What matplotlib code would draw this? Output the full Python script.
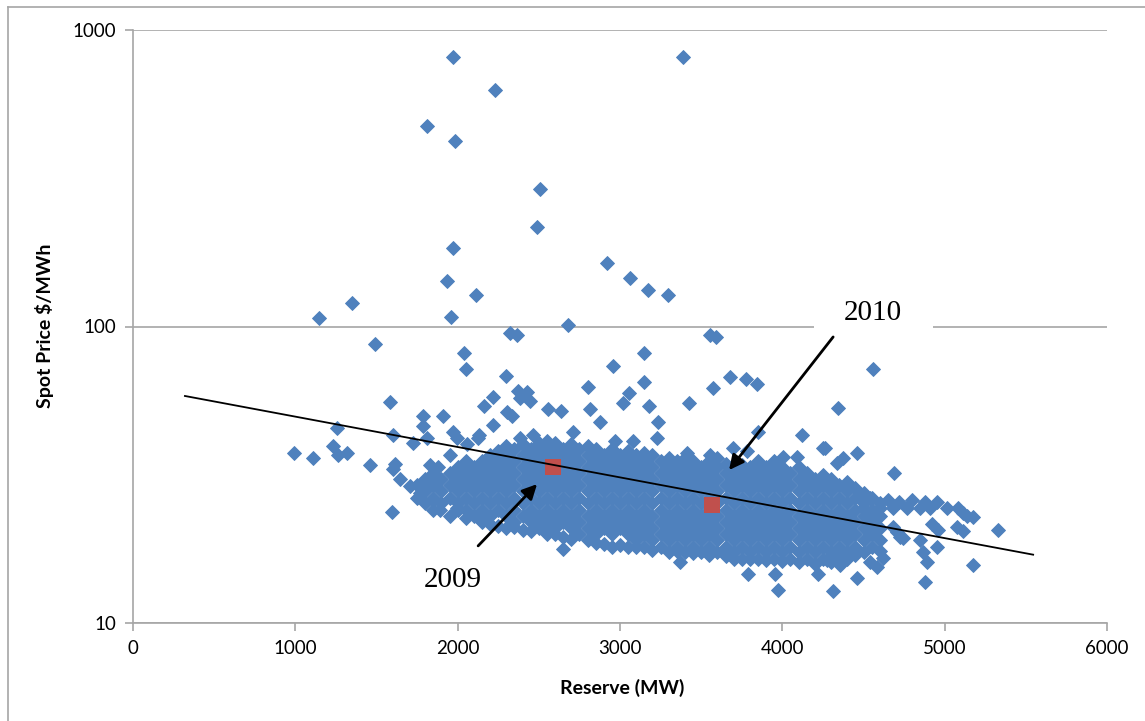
import matplotlib.pyplot as plt
from matplotlib.ticker import NullLocator

# scattered points outside the dense cloud (reserve MW, spot price $/MWh)
out_reserve = [1972, 3389, 2230, 1811, 1984, 2508, 2489, 1972, 2921, 3062,
               1935, 3173, 2113, 3296, 1350, 1146, 1959, 2680, 2323, 2366,
               3555, 3592, 1491, 2039, 3148, 2957, 2051, 4559, 2298, 3678,
               3777, 3845, 3148, 2803, 3573, 2372, 2427, 3056, 2218, 2384,
               2446, 1583, 2162, 3019, 3179, 3426, 4340, 2557, 2637, 2816,
               2304, 2335, 1787, 1910, 2877, 3235, 1787, 1257, 2218, 2711,
               1972, 3851, 4122, 1602, 2132, 2384, 2464, 1811, 1996, 2125,
               3228, 3080, 2970, 1725, 2058, 4251, 4265, 1232, 1263, 1318,
               992, 1109, 1953, 4460, 4375, 4338, 1460, 1614, 1602, 1830,
               1880, 4689, 1645, 1707, 1768, 1848, 1891, 1996, 1596, 2138,
               3413, 3555, 3697, 3783, 4005, 4091,
               4480, 4498, 4540, 4602, 4650, 4683, 4720, 4769, 4800, 4849,
               4880, 4910, 4950, 5015, 5083, 5114, 5140, 5175, 5077, 5114,
               5330, 4960, 4920, 4683, 4726, 4707, 4744, 4849, 4953, 4867,
               4892, 5175, 4879, 4460, 4313, 4584, 4540, 4621, 4356, 4276,
               4220, 3789, 3955, 3974, 3370, 2649]
out_price = [811, 808, 628, 474, 423, 291, 217, 184, 164, 146,
             142, 133, 128, 128, 120, 107, 108, 101, 95, 93.5,
             93.5, 92, 87, 81.5, 81.5, 73.6, 72, 72, 68, 67.6,
             66.5, 64, 65, 62.5, 62, 60.6, 60, 59.5, 58, 57.6,
             56, 55.5, 54, 55, 54, 55, 53, 52.5, 52, 52.6,
             51.6, 50, 50, 50, 47.5, 47.6, 46, 45.3, 46.5, 44,
             44, 44, 43, 43, 43, 42, 43, 42, 42, 42,
             42, 41, 41, 40.5, 40, 39, 39, 39.5, 37, 37.5,
             37.5, 36, 37, 37.5, 36, 34.6, 34, 34.5, 33, 34,
             33.5, 32, 30.5, 29, 27.5, 26, 24, 24.5, 23.7, 22.5,
             37.4, 37, 39, 38, 36.3, 36.3,
             27, 24.5, 26.5, 24.5, 26, 24.5, 25.5, 24.5, 26, 24.5,
             25.5, 24.5, 25.5, 24.5, 24.5, 23.5, 23, 22.7, 21, 20.5,
             20.6, 20.6, 21.5, 21, 19.5, 20.2, 19.4, 19.0, 18.0, 17.3,
             16, 15.7, 13.8, 14.2, 12.8, 15.4, 16, 16.6, 15.7, 16.3,
             14.6, 14.6, 14.6, 12.9, 16, 17.7]

# dense cloud, one column of prices per reserve value
cloud_reserve = [1750, 1800, 1850, 1900, 1950, 2000, 2050, 2100, 2150, 2200,
                 2250, 2300, 2350, 2400, 2450, 2500, 2550, 2600, 2650, 2700,
                 2750, 2800, 2850, 2900, 2950, 3000, 3050, 3100, 3150, 3200,
                 3250, 3300, 3350, 3400, 3450, 3500, 3550, 3600, 3650, 3700,
                 3750, 3800, 3850, 3900, 3950, 4000, 4050, 4100, 4150, 4200,
                 4250, 4300, 4350, 4400, 4450, 4500, 4550, 4600]
cloud_prices = [
    [26.5, 29.1],
    [25.3, 27.8, 30.5],
    [24.1, 26.5, 29.1, 32.0],
    [25.3, 27.8, 30.5],
    [23.0, 26.5, 29.1, 32.0],
    [24.1, 25.3, 27.8, 30.5, 33.6],
    [22.6, 24.1, 26.5, 29.1, 32.0, 35.2],
    [23.0, 25.3, 27.8, 30.5, 33.6],
    [21.9, 24.1, 26.5, 29.1, 32.0, 35.2],
    [21.5, 23.0, 25.3, 27.8, 30.5, 33.6, 37.0],
    [21.2, 24.1, 26.5, 29.1, 32.0, 35.2, 38.0],
    [20.9, 23.0, 25.3, 27.8, 30.5, 33.6, 37.0, 39.5],
    [21.0, 21.9, 24.1, 26.5, 29.1, 32.0, 35.2, 38.7],
    [20.6, 23.0, 25.3, 27.8, 30.5, 33.6, 37.0, 40.0],
    [20.5, 21.9, 24.1, 26.5, 29.1, 32.0, 35.2, 38.7],
    [20.9, 23.0, 25.3, 27.8, 30.5, 33.6, 37.0, 40.6],
    [19.9, 21.9, 24.1, 26.5, 29.1, 32.0, 35.2, 38.7, 41.0],
    [20.0, 20.9, 23.0, 25.3, 27.8, 30.5, 33.6, 37.0, 40.6],
    [19.5, 21.9, 24.1, 26.5, 29.1, 32.0, 35.2, 38.7],
    [19.2, 20.9, 23.0, 25.3, 27.8, 30.5, 33.6, 37.0, 40.0],
    [19.9, 21.9, 24.1, 26.5, 29.1, 32.0, 35.2, 38.7],
    [19.0, 20.9, 23.0, 25.3, 27.8, 30.5, 33.6, 37.0, 39.5],
    [18.6, 19.9, 21.9, 24.1, 26.5, 29.1, 32.0, 35.2, 38.7],
    [18.5, 20.9, 23.0, 25.3, 27.8, 30.5, 33.6, 37.0],
    [18.1, 19.9, 21.9, 24.1, 26.5, 29.1, 32.0, 35.2, 38.7],
    [18.3, 20.9, 23.0, 25.3, 27.8, 30.5, 33.6, 37.0],
    [18.1, 19.9, 21.9, 24.1, 26.5, 29.1, 32.0, 35.2, 38.0],
    [18.0, 19.0, 20.9, 23.0, 25.3, 27.8, 30.5, 33.6, 37.0],
    [18.1, 19.9, 21.9, 24.1, 26.5, 29.1, 32.0, 35.2, 37.5],
    [17.6, 19.0, 20.9, 23.0, 25.3, 27.8, 30.5, 33.6, 37.0],
    [18.1, 19.9, 21.9, 24.1, 26.5, 29.1, 32.0, 35.2],
    [17.3, 19.0, 20.9, 23.0, 25.3, 27.8, 30.5, 33.6, 36.0],
    [17.5, 18.1, 19.9, 21.9, 24.1, 26.5, 29.1, 32.0, 35.2],
    [17.3, 19.0, 20.9, 23.0, 25.3, 27.8, 30.5, 33.6, 36.0],
    [17.2, 18.1, 19.9, 21.9, 24.1, 26.5, 29.1, 32.0, 35.2],
    [17.3, 19.0, 20.9, 23.0, 25.3, 27.8, 30.5, 33.6],
    [17.0, 18.1, 19.9, 21.9, 24.1, 26.5, 29.1, 32.0, 35.2],
    [17.3, 19.0, 20.9, 23.0, 25.3, 27.8, 30.5, 33.6, 36.0],
    [16.8, 18.1, 19.9, 21.9, 24.1, 26.5, 29.1, 32.0, 34.5],
    [16.5, 17.3, 19.0, 20.9, 23.0, 25.3, 27.8, 30.5, 33.6],
    [16.5, 18.1, 19.9, 21.9, 24.1, 26.5, 29.1, 32.0, 34.0],
    [16.5, 17.3, 19.0, 20.9, 23.0, 25.3, 27.8, 30.5, 33.6],
    [16.5, 18.1, 19.9, 21.9, 24.1, 26.5, 29.1, 32.0, 35.2],
    [16.3, 17.3, 19.0, 20.9, 23.0, 25.3, 27.8, 30.5, 33.6],
    [16.5, 18.1, 19.9, 21.9, 24.1, 26.5, 29.1, 32.0, 35.2],
    [16.2, 17.3, 19.0, 20.9, 23.0, 25.3, 27.8, 30.5, 33.6],
    [16.5, 18.1, 19.9, 21.9, 24.1, 26.5, 29.1, 32.0],
    [16.0, 17.3, 19.0, 20.9, 23.0, 25.3, 27.8, 30.5, 33.6],
    [16.5, 18.1, 19.9, 21.9, 24.1, 26.5, 29.1, 32.0],
    [15.8, 17.3, 19.0, 20.9, 23.0, 25.3, 27.8, 30.5],
    [16.5, 18.1, 19.9, 21.9, 24.1, 26.5, 29.1, 31.5],
    [16.0, 17.3, 19.0, 20.9, 23.0, 25.3, 27.8, 30.5],
    [16.8, 18.1, 19.9, 21.9, 24.1, 26.5, 29.1],
    [16.5, 17.3, 19.0, 20.9, 23.0, 25.3, 27.8, 30.0],
    [17.0, 18.1, 19.9, 21.9, 24.1, 26.5, 28.5],
    [17.3, 19.0, 20.9, 23.0, 25.3, 27.5],
    [18.1, 19.9, 21.9, 24.1, 26.5],
    [17.5, 19.0, 20.9, 23.0, 25.3],
]

# yearly averages (red squares)
avg_reserve = [2588, 3567]
avg_price = [33.6, 25.0]
avg_years = ['2009', '2010']

# trend line end points
trend_reserve = [320, 5545]
trend_price = [58.3, 17.0]

xticks = [0, 1000, 2000, 3000, 4000, 5000, 6000]
yticks = [10, 100, 1000]

blue = '#4f81bd'
red = '#c0504d'
axis_grey = '#a6a6a6'

fig = plt.figure(figsize=(11.45, 7.21), dpi=100)
W, H = 1145, 721
ax = fig.add_axes([133 / W, 1 - 623 / H, (1107 - 133) / W, (623 - 30) / H])

# outer border of the chart
fig.add_artist(plt.Line2D([8 / W, 8 / W], [0, 1 - 7 / H], color=axis_grey, lw=1.2))
fig.add_artist(plt.Line2D([8 / W, 1], [1 - 7 / H, 1 - 7 / H], color=axis_grey, lw=1.2))

cx, cy = [], []
for r, prices in zip(cloud_reserve, cloud_prices):
    for p in prices:
        cx.append(r)
        cy.append(p)

ax.scatter(cx, cy, marker='D', s=50, color=blue, edgecolors=blue, linewidths=0.7, zorder=2)
ax.scatter(out_reserve, out_price, marker='D', s=50, color=blue, edgecolors=blue,
           linewidths=0.7, zorder=2)
ax.scatter(avg_reserve, avg_price, marker='s', s=135, color=red, linewidths=0, zorder=3)
ax.plot(trend_reserve, trend_price, color='black', lw=1.3, zorder=4)

ax.set_yscale('log')
ax.set_xlim(0, 6000)
ax.set_ylim(10, 1000)
ax.set_xticks(xticks)
ax.set_xticklabels([str(t) for t in xticks])
ax.set_yticks(yticks)
ax.set_yticklabels([str(t) for t in yticks])
ax.yaxis.set_minor_locator(NullLocator())
ax.yaxis.grid(True, color=axis_grey, lw=1.2)
ax.set_axisbelow(True)

for s in ['top', 'right']:
    ax.spines[s].set_visible(False)
for s in ['left', 'bottom']:
    ax.spines[s].set_color(axis_grey)
    ax.spines[s].set_linewidth(1.2)
ax.tick_params(direction='out', length=6, width=1.2, color=axis_grey,
               labelsize=13.5, pad=6)
for lab in ax.get_xticklabels() + ax.get_yticklabels():
    lab.set_family('Lato')

fig.text(622 / W, 1 - 688 / H, 'Reserve (MW)', ha='center', va='center',
         fontsize=14, fontweight='bold', family='Lato')
fig.text(45 / W, 1 - 326 / H, 'Spot Price $/MWh', ha='center', va='center',
         rotation=90, fontsize=14, fontweight='bold', family='Lato')

# annotations
ax.annotate('', xy=(2489, 29.4), xytext=(2126, 18.2),
            arrowprops=dict(arrowstyle='-|>', color='black', lw=2,
                            mutation_scale=22, shrinkA=0, shrinkB=0), zorder=5)
ax.text(1972, 13.96, avg_years[0], ha='center', va='center', fontsize=21,
        family='Liberation Serif', zorder=5)
ax.text(4560, 111, avg_years[1], ha='center', va='center', fontsize=21,
        family='Liberation Serif', zorder=3,
        bbox=dict(boxstyle='square,pad=1.05', facecolor='white', edgecolor='none'))
ax.annotate('', xy=(3672, 32.8), xytext=(4313, 92.2),
            arrowprops=dict(arrowstyle='-|>', color='black', lw=2,
                            mutation_scale=22, shrinkA=0, shrinkB=0), zorder=5)

fig.savefig('out.png', dpi=100)
